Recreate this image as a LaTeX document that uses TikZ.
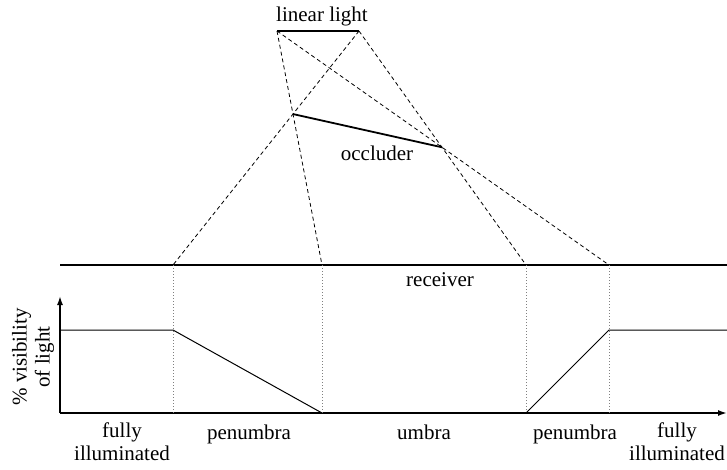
\documentclass[tikz,border=0pt]{standalone}
\usepackage{fontspec}
\setmainfont{Liberation Serif}
\usetikzlibrary{arrows.meta}
\tikzset{
  lbl/.style={inner sep=0pt, anchor=base, font=\fontsize{21}{23}\selectfont},
  thickline/.style={line width=1.8pt},
  ray/.style={line width=0.8pt, dash pattern=on 4pt off 3pt},
  guide/.style={line width=0.8pt, gray, dash pattern=on 1pt off 2pt},
  curve/.style={line width=1pt},
  axis/.style={line width=1.6pt, -{Latex[length=9pt,width=6pt]}}
}
\begin{document}
\begin{tikzpicture}[x=1pt,y=-1pt]
\useasboundingbox (0,0) rectangle (727,470);
% light and receiver points
\coordinate (L1) at (277,31);
\coordinate (L2) at (359,31);
\coordinate (R1) at (173,265);
\coordinate (R2) at (322,265);
\coordinate (R3) at (526,265);
\coordinate (R4) at (609,265);
\coordinate (O1) at (intersection of L1--R2 and L2--R1);
\coordinate (O2) at (intersection of L1--R4 and L2--R3);
% rays
\draw[ray] (L1) -- (R2);
\draw[ray] (L1) -- (R4);
\draw[ray] (L2) -- (R1);
\draw[ray] (L2) -- (R3);
% light, occluder
\draw[thickline] (L1) -- (L2);
\draw[thickline] (O1) -- (O2);
% receiver
\coordinate (RecA) at (60,265);
\coordinate (RecB) at (727,265);
\draw[thickline] (RecA) -- (RecB);
% axes
\coordinate (Org) at (60,413);
\coordinate (YTop) at (60,296);
\coordinate (XEnd) at (727,413);
\draw[axis] (Org) -- (YTop);
\draw[axis] (Org) -- (XEnd);
% guides
\coordinate (G1) at (173,413);
\coordinate (G2) at (322,413);
\coordinate (G3) at (526,413);
\coordinate (G4) at (609,413);
\draw[guide] (R1) -- (G1);
\draw[guide] (R2) -- (G2);
\draw[guide] (R3) -- (G3);
\draw[guide] (R4) -- (G4);
% visibility curve
\coordinate (V0) at (60,330);
\coordinate (V1) at (173,330);
\coordinate (V4) at (609,330);
\coordinate (V5) at (727,330);
\draw[curve] (V0) -- (V1) -- (G2);
\draw[curve] (G3) -- (V4) -- (V5);
% labels
\node[lbl] (tlight) at (322,22) {linear light};
\node[lbl] (tocc) at (377,161) {occluder};
\node[lbl] (trec) at (440,286) {receiver};
\node[lbl, align=center, anchor=north] (tfull1) at (122,423) {fully\\illuminated};
\node[lbl] (tpen1) at (249,439) {penumbra};
\node[lbl] (tumb) at (424,439) {umbra};
\node[lbl] (tpen2) at (575,439) {penumbra};
\node[lbl, align=center, anchor=north] (tfull2) at (677,423) {fully\\illuminated};
\node[inner sep=0pt, align=center, rotate=90, font=\fontsize{21}{23}\selectfont] (tvis) at (33,357) {\% visibility\\of light};
\end{tikzpicture}
\end{document}
